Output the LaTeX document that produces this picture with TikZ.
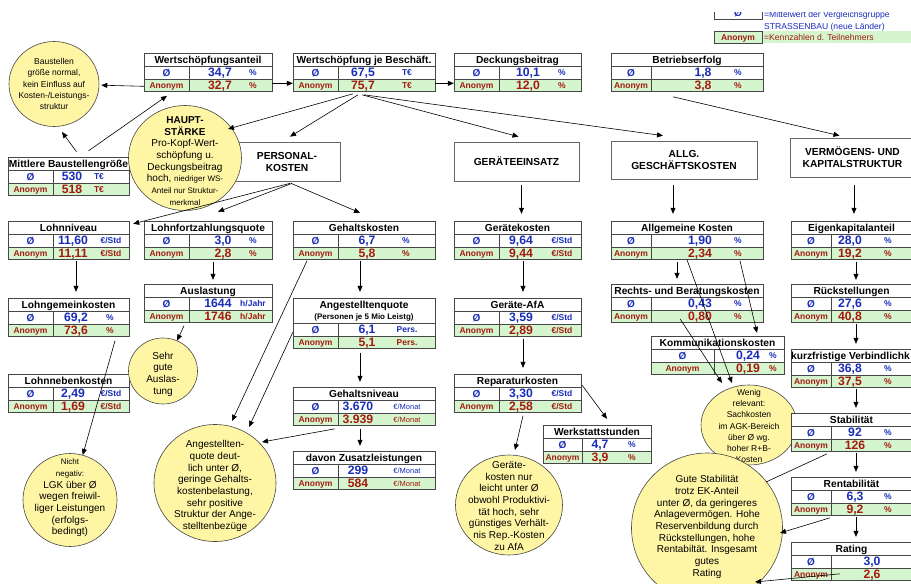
\documentclass[tikz,border=0pt]{standalone}
\usepackage{fontspec}
\setmainfont{Liberation Sans}
\usetikzlibrary{arrows.meta,shapes.geometric,fit,calc}
\definecolor{avgblue}{RGB}{25,45,185}
\definecolor{anonred}{RGB}{165,25,15}
\definecolor{anongreen}{RGB}{212,245,206}
\definecolor{bubfill}{RGB}{255,246,165}
\definecolor{framegray}{RGB}{70,70,70}
\newcommand\KTrow{12.8}
\newcommand\KTab[7]{%
  \def\KTn{#1}%
  \pgfmathsetmacro\KTya{#5+#6}%
  \pgfmathsetmacro\KTyb{\KTya+\KTrow}%
  \pgfmathsetmacro\KTyc{\KTyb+\KTrow}%
  \pgfmathsetmacro\KTxm{(#2+#3)/2}%
  \pgfmathsetmacro\KTxl{(#2+#4)/2}%
  \pgfmathsetmacro\KTyt{#5+#6/2}%
  \draw[tabline, fill=white] (#2,#5) rectangle (#3,\KTya);
  \draw[tabline, fill=white] (#2,\KTya) rectangle (#3,\KTyb);
  \draw[tabline, fill=anongreen] (#2,\KTyb) rectangle (#3,\KTyc);
  \draw[tabline] (#4,\KTya) -- (#4,\KTyc);
  \coordinate (#1-nw) at (#2,#5);
  \coordinate (#1-se) at (#3,\KTyc);
  \node[fit=(#1-nw)(#1-se), inner sep=0pt] (#1) {};
  \node[ttl] (#1-t) at (\KTxm,\KTyt) {#7};
}
\newcommand\KVal[5]{%
  \pgfmathsetmacro\KTr{(\KTya+\KTyb)/2}%
  \pgfmathsetmacro\KTs{(\KTyb+\KTyc)/2}%
  \node[avglbl] (\KTn-al) at (\KTxl,\KTr) {Ø};
  \node[anonlbl] (\KTn-bl) at (\KTxl,\KTs) {Anonym};
  \node[avgval] (\KTn-av) at (#4,\KTr) {#1};
  \node[anonval] (\KTn-bv) at (#4,\KTs) {#2};
  \node[avgunit] (\KTn-au) at (#5,\KTr) {#3};
  \node[anonunit] (\KTn-bu) at (#5,\KTs) {#3};
}
\newcommand\KMon{\mdseries\fontsize{7.5}{9}\selectfont €/Monat}
\begin{document}
\begin{tikzpicture}[x=1pt,y=-1pt,
  tabline/.style={draw=framegray, line width=0.6pt},
  ttl/.style={font=\fontsize{10.2}{11}\selectfont\bfseries, inner sep=0pt, text height=7.3pt, text depth=0pt},
  avglbl/.style={font=\fontsize{10}{11}\selectfont\bfseries, text=avgblue, inner sep=0pt, text height=7.2pt, text depth=0pt},
  anonlbl/.style={font=\fontsize{8.5}{10}\selectfont\bfseries, text=anonred, inner sep=0pt, text height=6.1pt, text depth=0pt},
  avgval/.style={font=\fontsize{12.2}{13}\selectfont\bfseries, text=avgblue, inner sep=0pt, text height=8.7pt, text depth=0pt},
  anonval/.style={font=\fontsize{12.2}{13}\selectfont\bfseries, text=anonred, inner sep=0pt, text height=8.7pt, text depth=0pt},
  avgunit/.style={font=\fontsize{8.5}{10}\selectfont\bfseries, text=avgblue, inner sep=0pt, text height=6.1pt, text depth=0pt},
  anonunit/.style={font=\fontsize{8.5}{10}\selectfont\bfseries, text=anonred, inner sep=0pt, text height=6.1pt, text depth=0pt},
  legtxt/.style={font=\fontsize{8.6}{10}\selectfont, inner sep=0pt, anchor=west, text height=6.2pt, text depth=0pt},
  catbox/.style={draw=gray!80!black, line width=0.7pt, fill=white, inner sep=0pt, align=center, font=\fontsize{10.2}{12}\selectfont\bfseries},
  bubble/.style={ellipse, draw=framegray, line width=0.6pt, fill=bubfill, inner sep=0pt},
  btext/.style={align=center, inner sep=0pt, font=\fontsize{10}{11.7}\selectfont},
  bsmall/.style={align=center, inner sep=0pt, font=\fontsize{8.5}{11.2}\selectfont},
  arr/.style={-{Triangle[length=6pt,width=5pt]}, line width=0.6pt},
  ln/.style={line width=0.6pt}]
\useasboundingbox (0,0) rectangle (911,584);
\fill[white] (0,0) rectangle (911,584);

% legend
\begin{scope}
  \clip (700,12) rectangle (911,30);
  \draw[tabline] (714,5) rectangle (762,19);
  \node[avglbl] (lg-a) at (738,12.5) {Ø};
  \node[legtxt, text=avgblue] (lg-at) at (764,14.5) {=Mittelwert der Vergleichsgruppe};
\end{scope}
\node[legtxt, text=avgblue] (lg-at2) at (764,26) {STRASSENBAU (neue Länder)};
\fill[anongreen] (762,31) rectangle (911,43);
\draw[tabline, fill=anongreen] (714,31) rectangle (762,43);
\node[anonlbl] (lg-b) at (738,37) {Anonym};
\node[legtxt, text=anonred] (lg-bt) at (764,37) {=Kennzahlen d. Teilnehmers};

% category boxes
\node[catbox, minimum width=106pt, minimum height=39pt] (pers) at (287,161.5) {PERSONAL-\\KOSTEN};
\node[catbox, minimum width=125pt, minimum height=39pt] (gte) at (516.5,161.5) {GERÄTEEINSATZ};
\node[catbox, minimum width=146pt, minimum height=38pt] (allg) at (684,160) {ALLG.\\GESCHÄFTSKOSTEN};
\node[catbox, minimum width=125pt, minimum height=39pt] (vks) at (852.5,157.5) {VERMÖGENS- UND\\KAPITALSTRUKTUR};

% bubble lying under tables
\node[bubble, minimum width=96pt, minimum height=80pt] (wen) at (749,425) {};
\node[bsmall] (wen-t) at (749,426) {Wenig\\relevant:\\Sachkosten\\im AGK-Bereich\\über Ø wg.\\hoher R+B-\\Kosten};

% tables
\KTab{wsa}{144}{272}{189}{53}{13}{Wertschöpfungsanteil}
\KVal{34,7}{32,7}{\%}{220}{253}
\KTab{wsb}{293}{435}{338}{53}{13}{Wertschöpfung je Beschäft.}
\KVal{67,5}{75,7}{T€}{363}{407}
\KTab{dbt}{454}{581}{499}{53}{13}{Deckungsbeitrag}
\KVal{10,1}{12,0}{\%}{528}{562}
\KTab{bef}{611}{763}{651}{53}{13}{Betriebserfolg}
\KVal{1,8}{3,8}{\%}{703}{738}
\KTab{mbg}{8}{129}{53}{157}{13}{Mittlere Baustellengröße}
\KVal{530}{518}{T€}{72}{99}
\KTab{lni}{8}{129}{53}{221}{13}{Lohnniveau}
\KVal{11,60}{11,11}{€/Std}{73}{111}
\KTab{lfq}{144}{272}{189}{221}{13}{Lohnfortzahlungsquote}
\KVal{3,0}{2,8}{\%}{223}{253}
\KTab{ghk}{293}{435}{338}{221}{13}{Gehaltskosten}
\KVal{6,7}{5,8}{\%}{367}{406}
\KTab{gtk}{454}{581}{499}{221}{13}{Gerätekosten}
\KVal{9,64}{9,44}{€/Std}{521}{562}
\KTab{agk}{611}{763}{651}{221}{13}{Allgemeine Kosten}
\KVal{1,90}{2,34}{\%}{700}{738}
\KTab{eka}{791}{912}{831}{221}{13}{Eigenkapitalanteil}
\KVal{28,0}{19,2}{\%}{850}{888}
\KTab{lgk}{8}{129}{53}{298}{13}{Lohngemeinkosten}
\KVal{69,2}{73,6}{\%}{76}{110}
\KTab{aus}{144}{272}{189}{284}{13}{Auslastung}
\KVal{1644}{1746}{h/Jahr}{218}{253}
\KTab{agq}{293}{435}{338}{298}{25}{}
\KVal{6,1}{5,1}{Pers.}{367}{407}
\node[ttl] (agq-t1) at (364,305) {Angestelltenquote};
\node[ttl, font=\fontsize{8}{9}\selectfont\bfseries, text height=5.8pt] (agq-t2) at (364,317) {(Personen je 5 Mio Leistg)};
\KTab{gafa}{454}{581}{499}{298}{13}{Geräte-AfA}
\KVal{3,59}{2,89}{€/Std}{521}{562}
\KTab{rbk}{611}{763}{651}{284}{13}{Rechts- und Beratungskosten}
\KVal{0,43}{0,80}{\%}{700}{738}
\KTab{rst}{791}{912}{831}{284}{13}{Rückstellungen}
\KVal{27,6}{40,8}{\%}{850}{888}
\KTab{kmk}{651}{784}{714}{336}{13}{Kommunikationskosten}
\KVal{0,24}{0,19}{\%}{748}{773}
\KTab{kfv}{791}{912}{831}{349}{13}{}
\KVal{36,8}{37,5}{\%}{850}{888}
\node[ttl, anchor=west] (kfv-t1) at (791,355.5) {kurzfristige Verbindlichk};
\KTab{lnk}{8}{129}{53}{374}{13}{Lohnnebenkosten}
\KVal{2,49}{1,69}{€/Std}{73}{111}
\KTab{rpk}{454}{581}{499}{374}{13}{Reparaturkosten}
\KVal{3,30}{2,58}{€/Std}{521}{562}
\KTab{ghn}{293}{435}{338}{387}{13}{Gehaltsniveau}
\KVal{3.670}{3.939}{\KMon}{358}{407}
\KTab{stb}{791}{912}{831}{413}{13}{Stabilität}
\KVal{92}{126}{\%}{855}{888}
\KTab{wst}{543}{651}{582}{425}{13}{Werkstattstunden}
\KVal{4,7}{3,9}{\%}{600}{632}
\KTab{dzl}{293}{435}{338}{451}{13}{davon Zusatzleistungen}
\KVal{299}{584}{\KMon}{358}{407}
\KTab{rnt}{791}{912}{831}{477}{13}{Rentabilität}
\KVal{6,3}{9,2}{\%}{855}{888}
\KTab{rtg}{791}{912}{831}{542}{13}{Rating}
\KVal{3,0}{2,6}{}{872}{895}

% bubbles
\node[bubble, minimum width=90pt, minimum height=85pt] (bst) at (54,84) {};
\node[bsmall] (bst-t) at (54,84) {Baustellen\\größe normal,\\kein Einfluss auf\\Kosten-/Leistungs-\\struktur};
\node[bubble, minimum width=113pt, minimum height=105pt] (hst) at (185,158) {};
\node[btext] (hst-t) at (185,161) {{\bfseries HAUPT-}\\{\bfseries STÄRKE}\\Pro-Kopf-Wert-\\schöpfung u.\\Deckungsbeitrag\\hoch, {\fontsize{8}{11}\selectfont niedriger WS-}\\{\fontsize{8}{11}\selectfont Anteil nur Struktur-}\\{\fontsize{8}{11}\selectfont merkmal}};
\node[bubble, minimum width=69pt, minimum height=66pt] (sga) at (163,371) {};
\node[btext] (sga-t) at (163,374) {Sehr\\gute\\Auslas-\\tung};
\node[bubble, minimum width=122pt, minimum height=117pt] (ang) at (215,483) {};
\node[btext] (ang-t) at (215,486) {Angestellten-\\quote deut-\\lich unter Ø,\\geringe Gehalts-\\kostenbelastung,\\sehr positive\\Struktur der Ange-\\stelltenbezüge};
\node[bubble, minimum width=94pt, minimum height=93pt] (nng) at (70,500) {};
\node[btext] (nng-t) at (70,498) {{\fontsize{8}{11}\selectfont Nicht}\\{\fontsize{8}{11}\selectfont negativ:}\\LGK über Ø\\wegen freiwil-\\liger Leistungen\\(erfolgs-\\bedingt)};
\node[bubble, minimum width=107pt, minimum height=100pt] (grk) at (509,505) {};
\node[btext] (grk-t) at (509,506) {Geräte-\\kosten nur\\leicht unter Ø\\obwohl Produktivi-\\tät hoch, sehr\\günstiges Verhält-\\nis Rep.-Kosten\\zu AfA};
\node[bubble, minimum width=151pt, minimum height=150pt] (gst) at (707,528) {};
\node[btext] (gst-t) at (707,527) {Gute Stabilität\\trotz EK-Anteil\\unter Ø, da geringeres\\Anlagevermögen. Hohe\\Reservenbildung durch\\Rückstellungen, hohe\\Rentabiltät. Insgesamt\\gutes\\Rating};

% connectors
\draw[arr, shorten >=2pt] ($(wsa.west)+(0,14)$) -- (bst);
\draw[arr] ($(wsa.east)+(0,11)$) -- ($(wsb.west)+(0,11)$);
\draw[arr] ($(wsb.east)+(0,11)$) -- ($(dbt.west)+(0,11)$);
\draw[arr] ($(mbg.north)+(20,-6)$) -- ($(wsa.south)+(-41,4)$);
\draw[arr] ($(mbg.north)+(8,-5)$) -- ($(bst)+(8,48)$);
\draw[arr] ($(wsb.south)+(-11,2)$) -- ($(hst)+(43,-29)$);
\draw[arr] ($(wsb.south)+(-6,3)$) -- ($(pers.north)+(3,-5)$);
\draw[arr] ($(wsb.south)+(-2,3)$) -- ($(gte.north)+(2,-5)$);
\draw[arr] ($(wsb.south)+(0,3)$) -- ($(allg.north)+(-21,-5)$);
\draw[arr] ($(bef.south)+(-14,5)$) -- ($(vks.north)+(-13,-2)$);
\draw[arr] ($(pers.south)+(3,2)$) -- ($(lni.north east)+(4,3)$);
\draw[arr] ($(pers.south)+(5,2)$) -- ($(lfq.north)+(10,-9)$);
\draw[arr] ($(pers.south)+(4,2)$) -- ($(ghk.north)+(-4,-8)$);
\draw[arr] ($(gte.south)+(5,4)$) -- ($(gtk.north)+(4,-7)$);
\draw[arr] ($(allg.south)+(-11,6)$) -- ($(agk.north)+(-14,-7)$);
\draw[arr] ($(vks.south)+(1.5,8)$) -- ($(eka.north)+(2.5,-7)$);
\draw[arr] ($(lni.south)+(7.5,1)$) -- ($(lgk.north)+(7.5,-6)$);
\draw[arr] ($(lfq.south)+(5,2)$) -- ($(aus.north)+(5,-4)$);
\draw[arr] ($(aus.south)+(-24,3)$) -- (sga);
\draw[arr] ($(lgk.south)+(46.5,4)$) -- (nng);
\draw[arr] ($(ghk.south)+(-57,1)$) -- ($(ang)+(17,-62)$);
\draw[arr] ($(agq.west)+(0,9)$) -- ($(ang)+(34,-56)$);
\draw[arr] ($(ghn.south)+(-29,3)$) -- ($(ang)+(47,-41)$);
\draw[arr] ($(ghk.south)+(-4,1)$) -- ($(agq.north)+(-4,-6)$);
\draw[arr] ($(agq.south)+(-4,4)$) -- ($(ghn.north)+(-4,-5)$);
\draw[arr] ($(ghn.south)+(-4,3)$) -- ($(dzl.north)+(-4,-5)$);
\draw[arr] ($(gtk.south)+(5.5,1)$) -- ($(gafa.north)+(5.5,-6)$);
\draw[arr] ($(gafa.south)+(5.5,2)$) -- ($(rpk.north)+(5.5,-6)$);
\draw[arr] ($(rpk.south)+(5.5,3)$) -- ($(grk)+(6,-55)$);
\draw[arr] ($(rpk.east)+(1,-8)$) -- ($(wst.north)+(10,-6)$);
\draw[arr] ($(agk.south)+(-10,2)$) -- ($(rbk.north)+(-10,-5)$);
\draw[arr] (agk.south) -- ($(wen)+(-17,-42)$);
\draw[arr] ($(agk.south)+(53,1)$) -- ($(kmk.north)+(39.5,-3)$);
\draw[arr] ($(rbk.south)+(-7,-4)$) -- ($(wen)+(-27,-42)$);
\draw[arr] ($(eka.south)+(4.5,2)$) -- ($(rst.north)+(4.5,-4)$);
\draw[arr] ($(rst.south)+(4.5,1)$) -- ($(kfv.north)+(4.5,-5)$);
\draw[arr] ($(kfv.south)+(4.5,1)$) -- ($(stb.north)+(4.5,-5)$);
\draw[arr] ($(stb.south)+(4.5,1)$) -- ($(rnt.north)+(4.5,-5)$);
\draw[arr] ($(rnt.south)+(4.5,1)$) -- ($(rtg.north)+(4.5,-5)$);
\draw[ln] ($(stb.south)+(-24.5,2)$) -- ($(gst)+(59,-46)$);
\draw[arr] ($(rnt.south)+(-21.5,2)$) -- ($(gst)+(73,5)$);
\draw[arr] ($(rtg.south)+(-11.5,-7)$) -- ($(gst)+(48,54)$);
\end{tikzpicture}
\end{document}
